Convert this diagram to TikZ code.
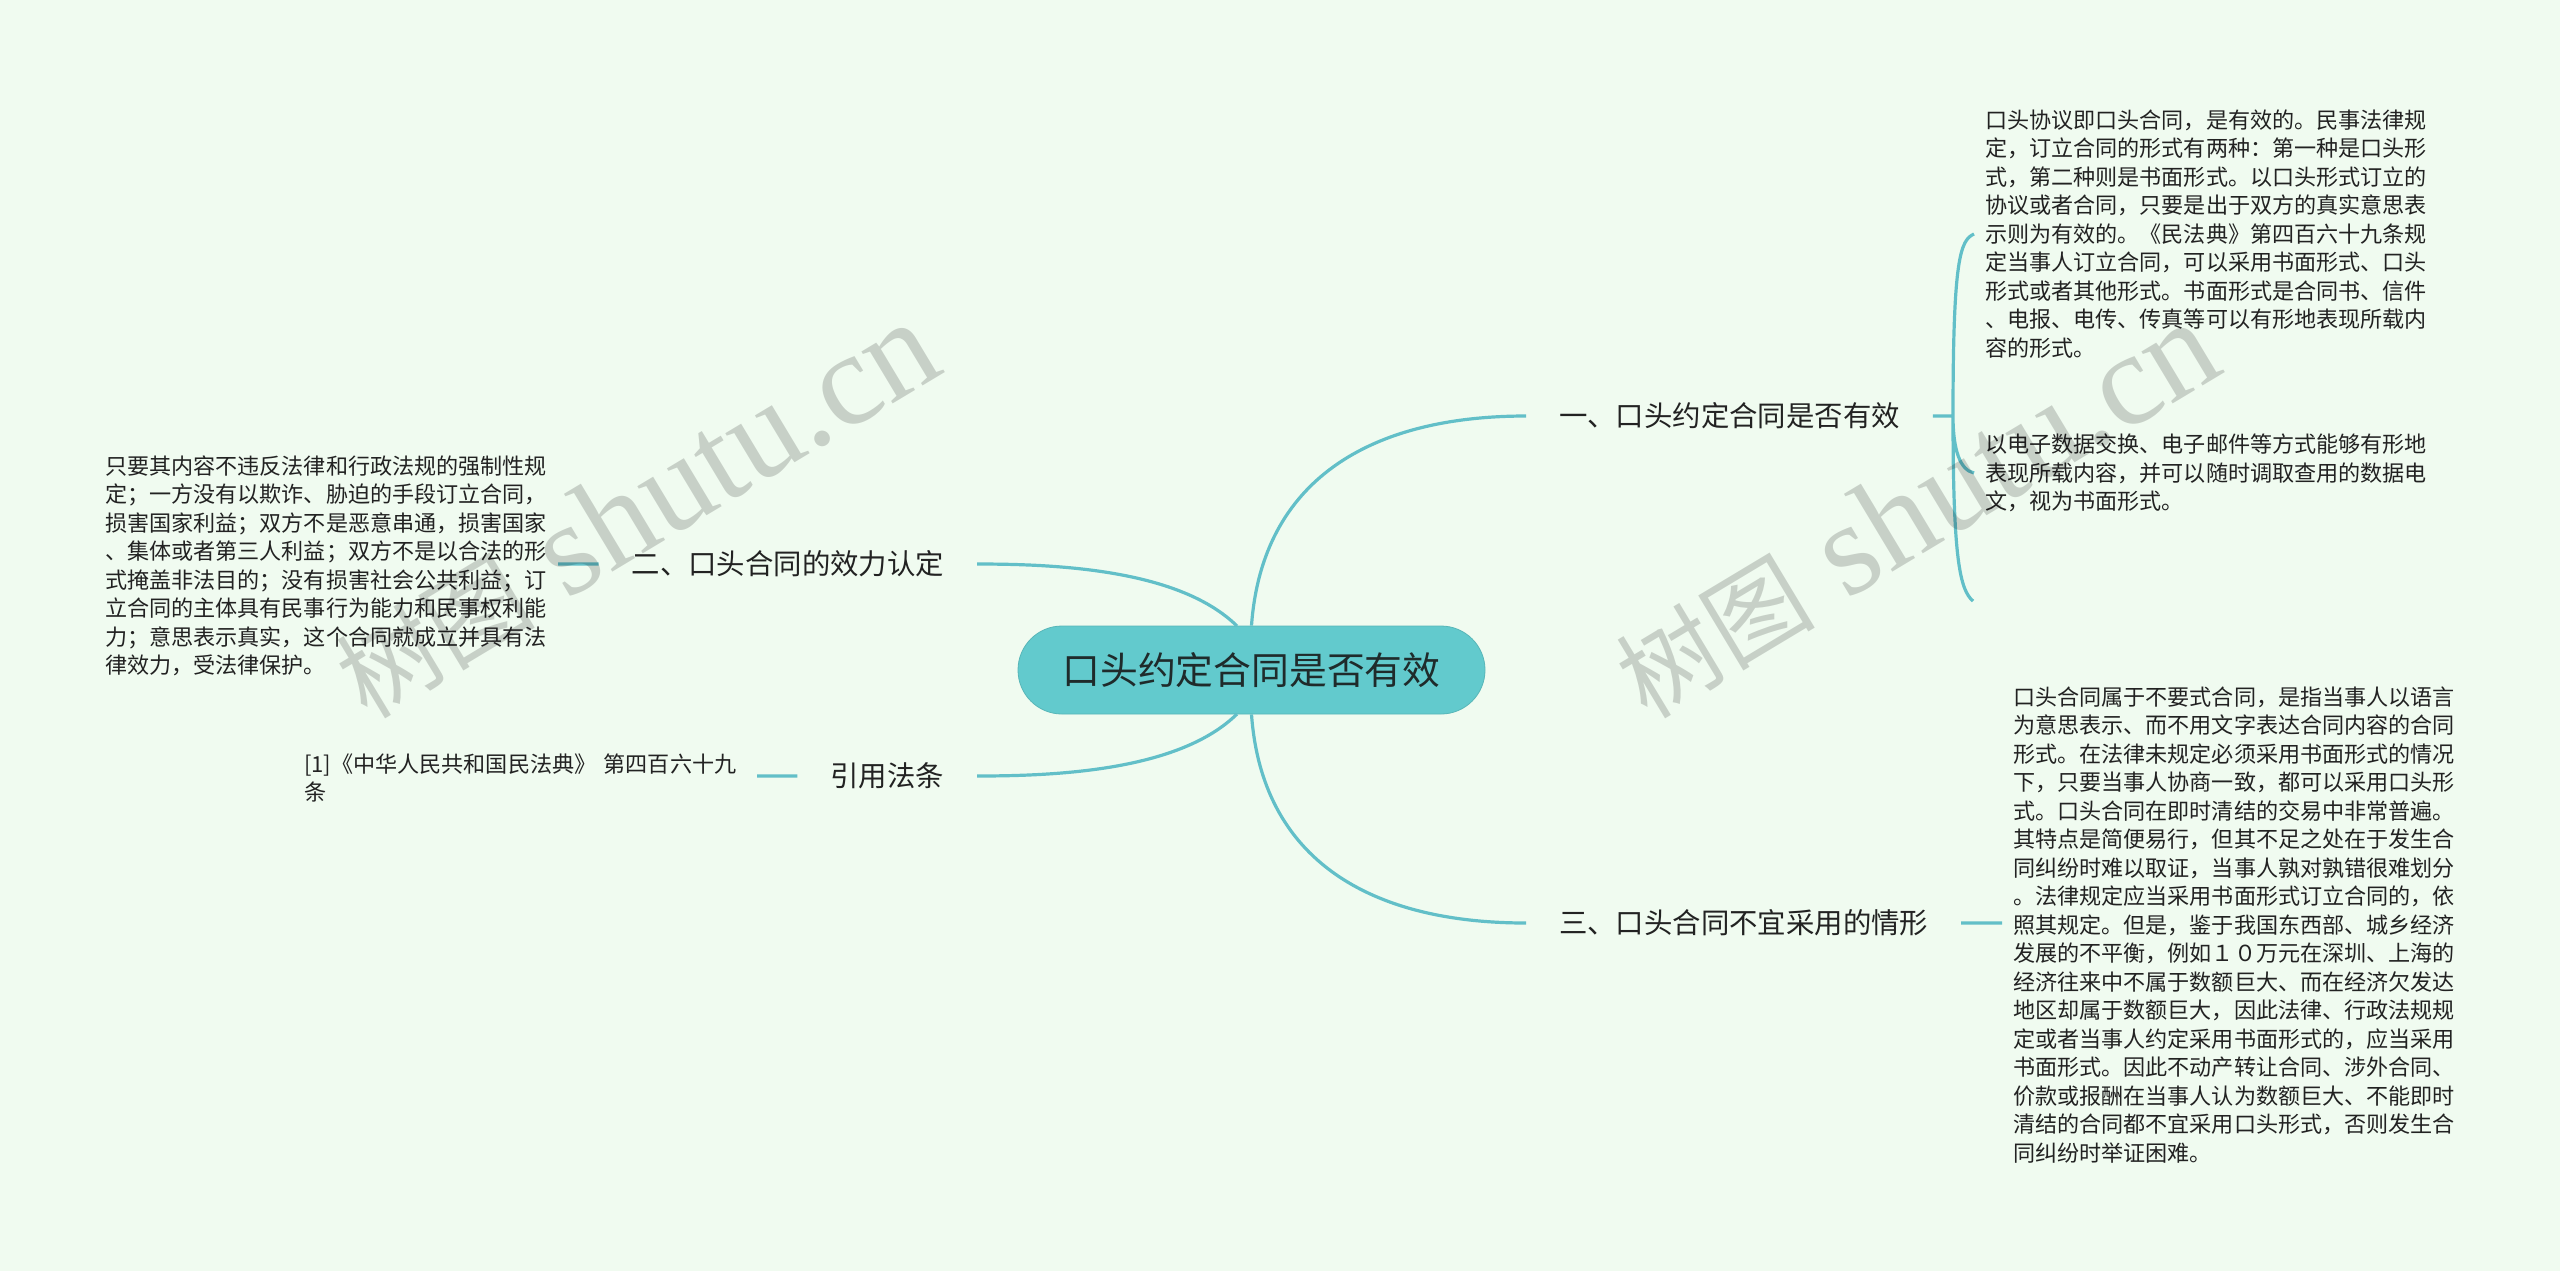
\documentclass[tikz,border=0pt]{standalone}
\usepackage{fontspec}
\setmainfont{Noto Sans CJK SC}
\newfontfamily\markfont{Liberation Serif}
\usetikzlibrary{positioning}
\definecolor{pagebg}{HTML}{F0FBF0}
\definecolor{rootfill}{HTML}{62CACD}
\definecolor{linkcol}{HTML}{62BFC8}
\definecolor{inkcol}{HTML}{222222}
\newcommand{\markline}{{\fontsize{50}{60}\selectfont 树图}{\markfont\fontsize{66}{80}\selectfont\ shutu.cn}}
\tikzset{
rootnode/.style={draw=rootfill!90!black,fill=rootfill,rounded corners=22pt,minimum width=233.5pt,minimum height=44pt,inner sep=0pt,text=inkcol!90!teal,font=\fontsize{18.9}{22}\selectfont},
branch/.style={inner sep=0pt,outer xsep=16.5pt,text=inkcol,font=\fontsize{14.2}{17}\selectfont},
detail/.style={inner sep=0pt,outer xsep=5.5pt,text width=221pt,align=left,text=inkcol,font=\fontsize{11.05}{14.25}\selectfont},
link/.style={draw=linkcol,line width=1.6pt},
wmark/.style={text=black,text opacity=.17,rotate=31,inner sep=0pt,anchor=base},
}
\begin{document}
\begin{tikzpicture}[x=.5pt,y=-.5pt]
\fill[pagebg] (0,0) rectangle (2560,1271);
\useasboundingbox (0,0) rectangle (2560,1271);
\node[rootnode] (root) at (1251.5,670) {口头约定合同是否有效};
\node[branch,anchor=west] (oral) at (1526,416) {一、口头约定合同是否有效};
\node[branch,anchor=east] (effect) at (977,564) {二、口头合同的效力认定};
\node[branch,anchor=west] (unfit) at (1526,923) {三、口头合同不宜采用的情形};
\node[branch,anchor=east] (cite) at (977,776) {引用法条};
\node[detail,anchor=west] (oralA) at (1974,234) {口头协议即口头合同，是有效的。民事法律规\\定，订立合同的形式有两种：第一种是口头形\\式，第二种则是书面形式。以口头形式订立的\\协议或者合同，只要是出于双方的真实意思表\\示则为有效的。《民法典》第四百六十九条规\\定当事人订立合同，可以采用书面形式、口头\\形式或者其他形式。书面形式是合同书、信件\\、电报、电传、传真等可以有形地表现所载内\\容的形式。};
\node[detail,anchor=west] (oralB) at (1974,473) {以电子数据交换、电子邮件等方式能够有形地\\表现所载内容，并可以随时调取查用的数据电\\文，视为书面形式。};
\coordinate (oralC) at (1973,601);
\coordinate (oralfork) at (1953,416);
\node[detail,anchor=east] (effectA) at (558,566) {只要其内容不违反法律和行政法规的强制性规\\定；一方没有以欺诈、胁迫的手段订立合同，\\损害国家利益；双方不是恶意串通，损害国家\\、集体或者第三人利益；双方不是以合法的形\\式掩盖非法目的；没有损害社会公共利益；订\\立合同的主体具有民事行为能力和民事权利能\\力；意思表示真实，这个合同就成立并具有法\\律效力，受法律保护。};
\node[detail,anchor=east] (citeA) at (757,778) {[1]《中华人民共和国民法典》 第四百六十九\\条};
\node[detail,anchor=west] (unfitA) at (2002,925) {口头合同属于不要式合同，是指当事人以语言\\为意思表示、而不用文字表达合同内容的合同\\形式。在法律未规定必须采用书面形式的情况\\下，只要当事人协商一致，都可以采用口头形\\式。口头合同在即时清结的交易中非常普遍。\\其特点是简便易行，但其不足之处在于发生合\\同纠纷时难以取证，当事人孰对孰错很难划分\\。法律规定应当采用书面形式订立合同的，依\\照其规定。但是，鉴于我国东西部、城乡经济\\发展的不平衡，例如１０万元在深圳、上海的\\经济往来中不属于数额巨大、而在经济欠发达\\地区却属于数额巨大，因此法律、行政法规规\\定或者当事人约定采用书面形式的，应当采用\\书面形式。因此不动产转让合同、涉外合同、\\价款或报酬在当事人认为数额巨大、不能即时\\清结的合同都不宜采用口头形式，否则发生合\\同纠纷时举证困难。};
\path[link]
(root.north) .. controls (1262,480) and (1370,416) .. (oral.west)
(root.south) .. controls (1262,860) and (1370,923) .. (unfit.west)
(1237,626) .. controls (1180,570) and (1060,564) .. (effect.east)
(1237,714) .. controls (1180,770) and (1060,776) .. (cite.east)
(oral.east) -- (oralfork)
(oralfork) .. controls (1953,260) and (1960,240) .. (oralA.west)
(oralfork) .. controls (1953,450) and (1960,470) .. (oralB.west)
(oralfork) .. controls (1953,560) and (1960,590) .. (oralC)
(effect.west) -- (effect.west -| effectA.east)
(cite.west) -- (cite.west -| citeA.east)
(unfit.east) -- (unfit.east -| unfitA.west);
\node[wmark] (markL) at (657,546) {\markline};
\node[wmark] (markR) at (1937,546) {\markline};
\end{tikzpicture}
\end{document}
